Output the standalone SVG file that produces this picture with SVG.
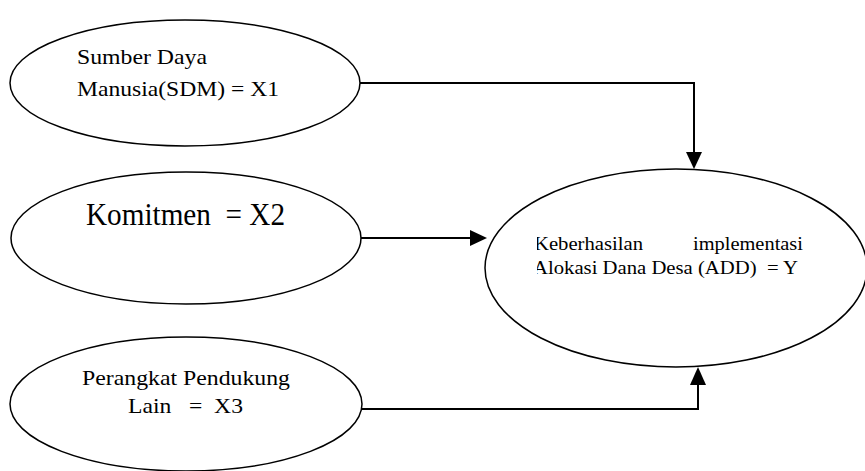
<svg xmlns="http://www.w3.org/2000/svg" width="865" height="471" viewBox="0 0 865 471">
<defs>
<style>
.node ellipse{fill:#fff;stroke:#000;stroke-width:1.5}
.node text{font-family:"Liberation Serif","Times New Roman",serif;fill:#000}
.conn{fill:none;stroke:#000;stroke-width:2}
.head{fill:#000}
</style>
<clipPath id="clipY"><rect x="537" y="220" width="300" height="80"/></clipPath>
</defs>
<rect width="865" height="471" fill="#fff"/>
<g id="connectors">
<path class="conn" d="M360,83 H694 V153"/>
<path class="head" d="M686,152 L702,152 L694,169 Z"/>
<path class="conn" d="M360,238 H472"/>
<path class="head" d="M470,230 L470,246 L487,238 Z"/>
<path class="conn" d="M362,409 H698 V384"/>
<path class="head" d="M690,385 L706,385 L698,367 Z"/>
</g>
<g id="x1" class="node">
<ellipse cx="185" cy="83" rx="175" ry="63"/>
<text x="77" y="64" font-size="22" textLength="130" lengthAdjust="spacingAndGlyphs">Sumber Daya</text>
<text x="77" y="96" font-size="22" textLength="202" lengthAdjust="spacingAndGlyphs">Manusia(SDM) = X1</text>
</g>
<g id="x2" class="node">
<ellipse cx="186" cy="238" rx="175" ry="66"/>
<text x="86" y="225" font-size="31" textLength="199" lengthAdjust="spacingAndGlyphs" xml:space="preserve">Komitmen  = X2</text>
</g>
<g id="x3" class="node">
<ellipse cx="186" cy="404" rx="176" ry="67"/>
<text x="82" y="385" font-size="22" textLength="208" lengthAdjust="spacingAndGlyphs">Perangkat Pendukung</text>
<text x="128" y="413" font-size="22" textLength="115" lengthAdjust="spacingAndGlyphs" xml:space="preserve">Lain   =  X3</text>
</g>
<g id="y" class="node">
<ellipse cx="676" cy="268" rx="191" ry="99"/>
<g clip-path="url(#clipY)">
<text x="534" y="250" font-size="19" textLength="109" lengthAdjust="spacingAndGlyphs">Keberhasilan</text>
<text x="693" y="250" font-size="19" textLength="110" lengthAdjust="spacingAndGlyphs">implementasi</text>
<text x="533" y="274" font-size="19" textLength="265" lengthAdjust="spacingAndGlyphs" xml:space="preserve">Alokasi Dana Desa (ADD)  = Y</text>
</g>
</g>
</svg>
